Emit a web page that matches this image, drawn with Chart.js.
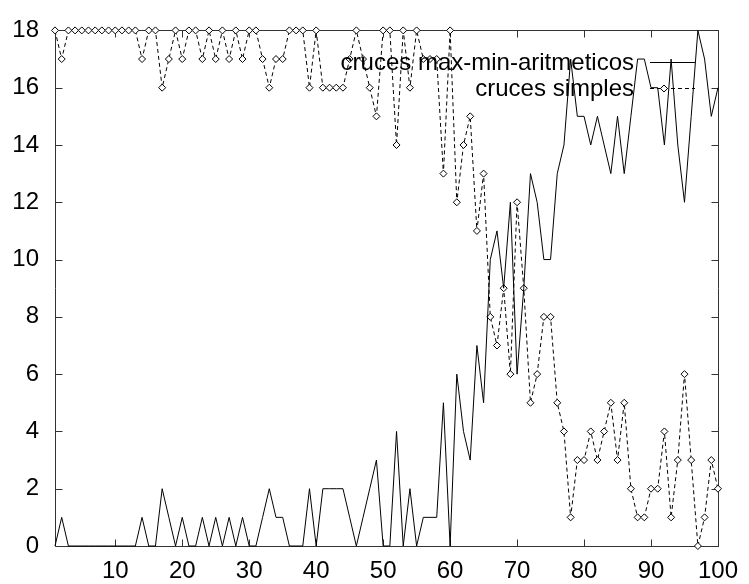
<!DOCTYPE html>
<html lang="es">
<head>
<meta charset="UTF-8">
<title>cruces max-min-aritmeticos / cruces simples</title>
<script src="https://cdn.jsdelivr.net/npm/chart.js"></script>
<style>
  html, body { margin: 0; padding: 0; background: #fff; }
  #wrap { width: 749px; height: 584px; }
</style>
</head>
<body>
<div id="wrap"><canvas id="grafico" width="749" height="584"></canvas></div>
<script>
// x: 1..100
const generacion = [
  1, 2, 3, 4, 5, 6, 7, 8, 9, 10, 11, 12, 13, 14, 15, 16, 17, 18, 19, 20,
  21, 22, 23, 24, 25, 26, 27, 28, 29, 30, 31, 32, 33, 34, 35, 36, 37, 38, 39, 40,
  41, 42, 43, 44, 45, 46, 47, 48, 49, 50, 51, 52, 53, 54, 55, 56, 57, 58, 59, 60,
  61, 62, 63, 64, 65, 66, 67, 68, 69, 70, 71, 72, 73, 74, 75, 76, 77, 78, 79, 80,
  81, 82, 83, 84, 85, 86, 87, 88, 89, 90, 91, 92, 93, 94, 95, 96, 97, 98, 99, 100
];
const crucesMaxMin = [
  0, 1, 0, 0, 0, 0, 0, 0, 0, 0,   0, 0, 0, 1, 0, 0, 2, 1, 0, 1,
  0, 0, 1, 0, 1, 0, 1, 0, 1, 0,   0, 1, 2, 1, 1, 0, 0, 0, 2, 0,
  2, 2, 2, 2, 1, 0, 1, 2, 3, 0,   0, 4, 0, 2, 0, 1, 1, 1, 5, 0,
  6, 4, 3, 7, 5, 10, 11, 9, 12, 6,   9, 13, 12, 10, 10, 13, 14, 17, 15, 15,
  14, 15, 14, 13, 15, 13, 15, 17, 17, 16,   16, 14, 17, 14, 12, 15, 18, 17, 15, 16
];
const crucesSimples = [
  18, 17, 18, 18, 18, 18, 18, 18, 18, 18,   18, 18, 18, 17, 18, 18, 16, 17, 18, 17,
  18, 18, 17, 18, 17, 18, 17, 18, 17, 18,   18, 17, 16, 17, 17, 18, 18, 18, 16, 18,
  16, 16, 16, 16, 17, 18, 17, 16, 15, 18,   18, 14, 18, 16, 18, 17, 17, 17, 13, 18,
  12, 14, 15, 11, 13, 8, 7, 9, 6, 12,   9, 5, 6, 8, 8, 5, 4, 1, 3, 3,
  4, 3, 4, 5, 3, 5, 2, 1, 1, 2,   2, 4, 1, 3, 6, 3, 0, 1, 3, 2
];
const xTicks = [10, 20, 30, 40, 50, 60, 70, 80, 90, 100];
const yTicks = [0, 2, 4, 6, 8, 10, 12, 14, 16, 18];
const etiquetas = ['cruces max-min-aritmeticos', 'cruces simples'];

const FONT = "'Liberation Sans', Arial, Helvetica, sans-serif";

// marco + marcas hacia dentro en los cuatro lados (estilo gnuplot)
const marco = {
  id: 'marco',
  beforeDatasetsDraw(chart) {
    const { ctx, chartArea: a, scales: { x, y } } = chart;
    const L = Math.round(a.left) + 0.5, R = Math.round(a.right) + 0.5;
    const T = Math.round(a.top) + 0.5, B = Math.round(a.bottom) + 0.5;
    const len = 7;
    ctx.save();
    ctx.strokeStyle = '#333';
    ctx.lineWidth = 1;
    ctx.beginPath();
    ctx.rect(L, T, R - L, B - T);
    xTicks.forEach(v => {
      const px = Math.round(x.getPixelForValue(v)) + 0.5;
      ctx.moveTo(px, B); ctx.lineTo(px, B - len);
      ctx.moveTo(px, T); ctx.lineTo(px, T + len);
    });
    yTicks.forEach(v => {
      const py = Math.round(y.getPixelForValue(v)) + 0.5;
      ctx.moveTo(L, py); ctx.lineTo(L + len, py);
      ctx.moveTo(R, py); ctx.lineTo(R - len, py);
    });
    ctx.stroke();
    ctx.restore();
  }
};

// leyenda dentro del gráfico, arriba a la derecha: texto a la izquierda, muestra a la derecha
const leyenda = {
  id: 'leyenda',
  afterDatasetsDraw(chart) {
    const { ctx, chartArea: a } = chart;
    const x1 = a.right - 23, x0 = x1 - 45, xt = x0 - 16;
    ctx.save();
    ctx.font = '24px ' + FONT;
    ctx.textAlign = 'right';
    ctx.textBaseline = 'middle';
    chart.data.datasets.forEach((ds, i) => {
      const yy = Math.round(a.top + 32 + i * 26) + 0.5;
      ctx.fillStyle = '#000';
      ctx.fillText(ds.label, xt, yy + 1);
      ctx.strokeStyle = '#000';
      ctx.lineWidth = 1;
      ctx.setLineDash(ds.borderDash || []);
      ctx.beginPath();
      ctx.moveTo(x0, yy);
      ctx.lineTo(x1, yy);
      ctx.stroke();
      ctx.setLineDash([]);
      if (ds.pointRadius > 0) {
        ctx.fillStyle = '#fff';
        ctx.strokeStyle = '#000';
        Chart.helpers.drawPoint(ctx, {
          pointStyle: ds.pointStyle, radius: ds.pointRadius,
          borderWidth: 1, rotation: 0
        }, x0 + 14, yy);
      }
    });
    ctx.restore();
  }
};

const ctx = document.getElementById('grafico').getContext('2d');
new Chart(ctx, {
  type: 'line',
  data: {
    datasets: [
      {
        label: etiquetas[0],
        data: generacion.map((g, i) => ({ x: g, y: crucesMaxMin[i] })),
        borderColor: '#000',
        borderWidth: 1,
        pointRadius: 0,
        tension: 0,
        clip: false
      },
      {
        label: etiquetas[1],
        data: generacion.map((g, i) => ({ x: g, y: crucesSimples[i] })),
        borderColor: '#000',
        borderWidth: 1,
        borderDash: [4, 3],
        pointStyle: 'rectRot',
        pointRadius: 3.5,
        pointBorderWidth: 1,
        pointBorderColor: '#000',
        pointBackgroundColor: '#fff',
        tension: 0,
        clip: false
      }
    ]
  },
  options: {
    responsive: false,
    animation: false,
    devicePixelRatio: 1,
    layout: { padding: { left: 0, top: 23, right: 22, bottom: 0 } },
    plugins: { legend: { display: false }, tooltip: { enabled: false } },
    scales: {
      x: {
        type: 'linear',
        min: 1, max: 100,
        afterBuildTicks: s => { s.ticks = xTicks.map(v => ({ value: v })); },
        afterFit: s => { s.height = 38; },
        grid: { display: false, drawTicks: false },
        border: { display: false },
        ticks: { color: '#000', padding: 11, maxRotation: 0, autoSkip: false, font: { family: FONT, size: 24 } }
      },
      y: {
        type: 'linear',
        min: 0, max: 18,
        afterBuildTicks: s => { s.ticks = yTicks.map(v => ({ value: v })); },
        afterFit: s => { s.width = 55; },
        grid: { display: false, drawTicks: false },
        border: { display: false },
        ticks: { color: '#000', padding: 16, font: { family: FONT, size: 24 } }
      }
    }
  },
  plugins: [marco, leyenda]
});
</script>
</body>
</html>
